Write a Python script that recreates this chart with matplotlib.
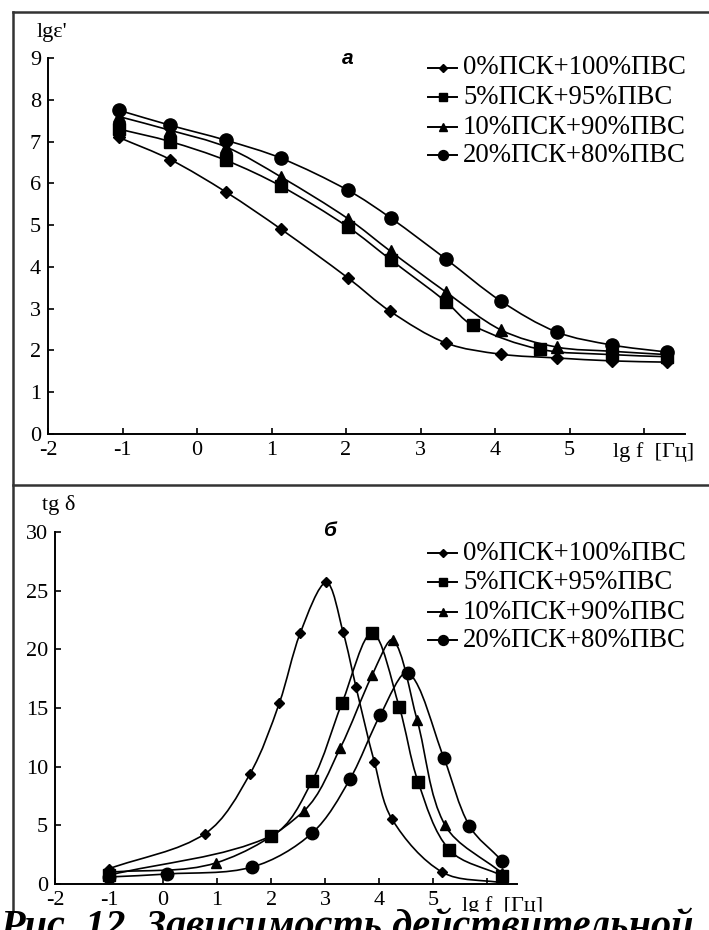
import numpy as np
import matplotlib
matplotlib.use("Agg")
import matplotlib.pyplot as plt
from matplotlib.path import Path
from matplotlib.patches import PathPatch, Rectangle
from matplotlib.lines import Line2D

plt.rcParams["font.family"] = ["Liberation Serif", "DejaVu Serif"]

W, H = 709, 930

# lg e' vs lg f
eps_x_0 = [-1.05, -0.36, 0.39, 1.13, 2.03, 2.59, 3.34, 4.08, 4.83, 5.57, 6.31]
eps_y_0 = [7.1, 6.57, 5.79, 4.9, 3.73, 2.94, 2.18, 1.91, 1.82, 1.75, 1.72]
eps_x_5 = [-1.05, -0.36, 0.39, 1.13, 2.03, 2.6, 3.34, 3.7, 4.6, 5.57, 6.31]
eps_y_5 = [7.3, 7.0, 6.55, 5.93, 4.95, 4.17, 3.17, 2.6, 2.03, 1.9, 1.85]
eps_x_10 = [-1.05, -0.36, 0.39, 1.13, 2.03, 2.6, 3.34, 4.08, 4.83, 5.57, 6.31]
eps_y_10 = [7.6, 7.27, 6.87, 6.15, 5.15, 4.37, 3.4, 2.49, 2.08, 1.98, 1.9]
eps_x_20 = [-1.05, -0.36, 0.39, 1.13, 2.03, 2.6, 3.34, 4.08, 4.83, 5.57, 6.31]
eps_y_20 = [7.75, 7.39, 7.03, 6.6, 5.83, 5.17, 4.19, 3.18, 2.44, 2.13, 1.96]

# tg delta vs lg f
tg_x_0 = [-1.0, 0.78, 1.61, 2.15, 2.54, 3.02, 3.33, 3.57, 3.91, 4.24, 5.17, 6.28]
tg_y_0 = [1.3, 4.3, 9.4, 15.4, 21.4, 25.7, 21.5, 16.8, 10.4, 5.5, 1.0, 0.1]
tg_x_5 = [-1.0, 2.0, 2.76, 3.31, 3.87, 4.37, 4.72, 5.3, 6.28]
tg_y_5 = [0.75, 4.1, 8.8, 15.4, 21.4, 15.1, 8.7, 2.9, 0.7]
tg_x_10 = [-1.0, 0.98, 2.6, 3.28, 3.87, 4.26, 4.7, 5.22, 6.28]
tg_y_10 = [1.0, 1.8, 6.2, 11.6, 17.8, 20.8, 14.0, 5.0, 0.9]
tg_x_20 = [-1.0, 0.07, 1.65, 2.76, 3.46, 4.02, 4.54, 5.2, 5.67, 6.28]
tg_y_20 = [0.6, 0.85, 1.45, 4.35, 8.95, 14.4, 18.0, 10.7, 4.95, 1.95]

labels = ["0%ПСК+100%ПВС", "5%ПСК+95%ПВС", "10%ПСК+90%ПВС", "20%ПСК+80%ПВС"]
markers = ["D", "s", "^", "o"]
top_sizes = [6, 8.5, 8.5, 9.5]
bot_sizes = [5.5, 8.5, 7.5, 9]


def smooth_path(xs, ys, sx, sy):
    # chord-length Bezier spline, computed in screen-like units (sx, sy px per unit)
    p = np.column_stack([np.asarray(xs) * sx, np.asarray(ys) * sy])
    n = len(p)
    seg = np.linalg.norm(np.diff(p, axis=0), axis=1)
    tan = np.zeros_like(p)
    tan[0] = (p[1] - p[0]) / seg[0]
    tan[-1] = (p[-1] - p[-2]) / seg[-1]
    for i in range(1, n - 1):
        tan[i] = (p[i + 1] - p[i - 1]) / (seg[i - 1] + seg[i])
    verts = [p[0]]
    codes = [Path.MOVETO]
    for i in range(n - 1):
        L = seg[i] / 3
        verts += [p[i] + tan[i] * L, p[i + 1] - tan[i + 1] * L, p[i + 1]]
        codes += [Path.CURVE4] * 3
    verts = np.array(verts) / [sx, sy]
    return Path(verts, codes)


def fx(px):
    return px / W


def fy(py):
    return 1 - py / H


def style_axes(ax):
    for s in ["top", "right"]:
        ax.spines[s].set_visible(False)
    for s in ["left", "bottom"]:
        ax.spines[s].set_linewidth(1.4)
    ax.tick_params(direction="in", length=4, width=1.2, labelsize=16, pad=5)
    ax.set_xlim(-2, 6.55)
    ax.set_xticks(range(-2, 7))
    ax.set_xticklabels([str(v) for v in range(-2, 6)] + [""])


def draw_series(ax, xs_list, ys_list, sizes, sx, sy):
    for xs, ys, m, ms in zip(xs_list, ys_list, markers, sizes):
        ax.add_patch(PathPatch(smooth_path(xs, ys, sx, sy), fill=False, lw=1.2,
                               ec="black", zorder=2))
        ax.plot(xs, ys, ls="none", marker=m, ms=ms, color="black", zorder=3)


def draw_legend(fig, rows_py, sizes):
    for lab, m, ms, py in zip(labels, markers, sizes, rows_py):
        fig.add_artist(Line2D([fx(428), fx(457)], [fy(py), fy(py)], lw=1.4,
                              color="black", transform=fig.transFigure))
        fig.add_artist(Line2D([fx(442.5)], [fy(py)], marker=m, ms=ms * 0.75,
                              color="black", transform=fig.transFigure))
        fig.text(fx(463), fy(py), lab, fontsize=19.3, va="center", ha="left")


fig = plt.figure(figsize=(W / 100, H / 100), dpi=100)

# upper panel
ax1 = fig.add_axes([fx(48), fy(434), (685 - 48) / W, (434 - 58) / H])
style_axes(ax1)
ax1.set_ylim(0, 9)
ax1.set_yticks(range(0, 10))
draw_series(ax1, [eps_x_0, eps_x_5, eps_x_10, eps_x_20],
            [eps_y_0, eps_y_5, eps_y_10, eps_y_20], top_sizes, 74.5, 41.8)
fig.text(fx(37), fy(32), "lgε'", fontsize=16, va="center", ha="left")
fig.text(fx(613), fy(452), "lg f  [Гц]", fontsize=16, va="center", ha="left")
fig.text(fx(348), fy(59), "а", fontsize=15, fontweight="bold", style="italic",
         family="Liberation Sans", va="center", ha="center")
draw_legend(fig, [68, 97, 127, 155], top_sizes)

# lower panel
ax2 = fig.add_axes([fx(55), fy(884), (517 - 55) / W, (884 - 532) / H])
style_axes(ax2)
ax2.set_ylim(0, 30)
ax2.set_yticks(range(0, 31, 5))
draw_series(ax2, [tg_x_0, tg_x_5, tg_x_10, tg_x_20],
            [tg_y_0, tg_y_5, tg_y_10, tg_y_20], bot_sizes, 54.0, 11.73)
fig.text(fx(42), fy(505), "tg δ", fontsize=16, va="center", ha="left")
fig.text(fx(462), fy(906), "lg f  [Гц]", fontsize=16, va="center", ha="left")
fig.text(fx(329), fy(530), "б", fontsize=15, fontweight="bold", style="italic",
         family="Liberation Sans", va="center", ha="center")
draw_legend(fig, [553, 582, 612, 640], top_sizes)

# panel frames
frame = dict(color="#333333", lw=1.8, transform=fig.transFigure)
fig.add_artist(Line2D([fx(13), 1], [fy(12), fy(12)], **frame))
fig.add_artist(Line2D([fx(13), 1], [fy(485), fy(485)], **frame))
fig.add_artist(Line2D([fx(13), fx(13)], [fy(12), fy(912)], **frame))

# caption strip
fig.add_artist(Rectangle((0, 0), 1, fy(912), color="white",
                         transform=fig.transFigure, zorder=10))
fig.text(0.0, fy(909), "Рис. 12. Зависимость действительной", fontsize=29,
         fontweight="bold", style="italic", va="top", ha="left", zorder=11)

fig.savefig("out.png", dpi=100)
